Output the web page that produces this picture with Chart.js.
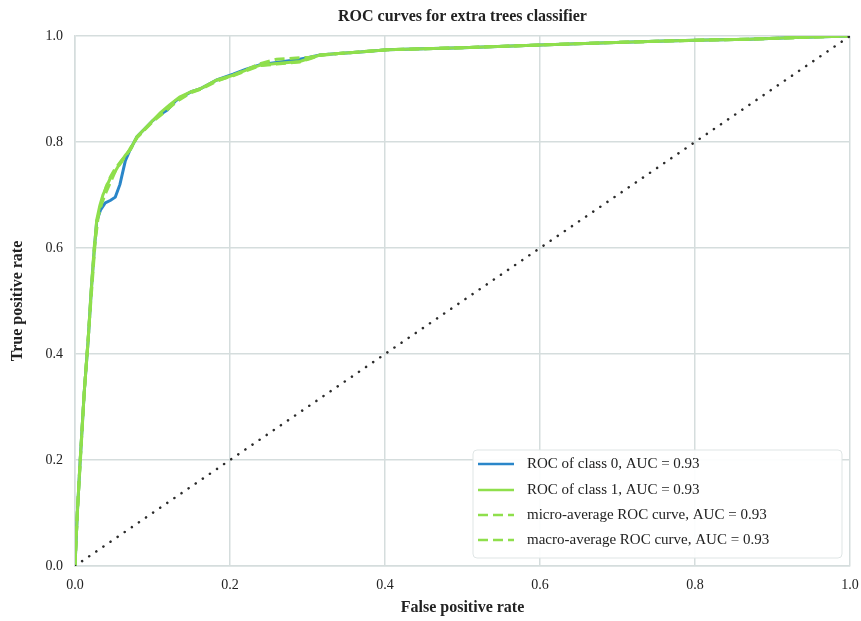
<!DOCTYPE html>
<html>
<head>
<meta charset="utf-8">
<script src="https://cdn.jsdelivr.net/npm/chart.js@4.4.0/dist/chart.umd.min.js"></script>
<style>
  html, body { margin: 0; padding: 0; background: #fff; }
  #wrap { width: 861px; height: 621px; }
</style>
</head>
<body>
<div id="wrap"><canvas id="roc" width="861" height="621"></canvas></div>
<script>
const xTicks = [0, 0.2, 0.4, 0.6, 0.8, 1.0];
const yTicks = [0, 0.2, 0.4, 0.6, 0.8, 1.0];

// class 0 (blue)
const fpr0 = [0, 0.003, 0.0065, 0.012, 0.017, 0.021, 0.025, 0.028, 0.033, 0.039, 0.046, 0.052, 0.058, 0.065, 0.071, 0.08, 0.09, 0.1, 0.11, 0.119, 0.13, 0.15, 0.161, 0.183, 0.204, 0.22, 0.239, 0.26, 0.29, 0.303, 0.316, 0.34, 0.368, 0.403, 0.45, 0.5, 0.6, 0.677, 0.75, 0.8, 0.87, 0.93, 1.0];
const tpr0 = [0, 0.1, 0.194, 0.33, 0.426, 0.52, 0.6, 0.65, 0.672, 0.685, 0.69, 0.696, 0.72, 0.765, 0.785, 0.81, 0.825, 0.84, 0.852, 0.86, 0.878, 0.895, 0.9, 0.917, 0.928, 0.937, 0.946, 0.95, 0.956, 0.96, 0.964, 0.967, 0.97, 0.974, 0.976, 0.978, 0.983, 0.987, 0.99, 0.992, 0.994, 0.997, 1.0];

// class 1 (green)
const fpr1 = [0, 0.003, 0.0065, 0.012, 0.017, 0.021, 0.025, 0.028, 0.032, 0.036, 0.045, 0.052, 0.058, 0.065, 0.071, 0.08, 0.09, 0.1, 0.11, 0.122, 0.135, 0.15, 0.161, 0.183, 0.204, 0.22, 0.239, 0.26, 0.29, 0.303, 0.316, 0.34, 0.368, 0.403, 0.45, 0.5, 0.6, 0.677, 0.75, 0.8, 0.87, 0.93, 1.0];
const tpr1 = [0, 0.1, 0.194, 0.33, 0.426, 0.52, 0.6, 0.653, 0.68, 0.70, 0.73, 0.745, 0.76, 0.775, 0.785, 0.81, 0.825, 0.84, 0.855, 0.87, 0.885, 0.895, 0.9, 0.917, 0.926, 0.935, 0.945, 0.948, 0.952, 0.958, 0.964, 0.967, 0.97, 0.974, 0.976, 0.978, 0.983, 0.987, 0.99, 0.992, 0.994, 0.997, 1.0];

// micro-average
const fprMicro = [0, 0.003, 0.007, 0.012, 0.017, 0.022, 0.026, 0.03, 0.035, 0.04, 0.046, 0.052, 0.06, 0.066, 0.072, 0.08, 0.09, 0.1, 0.112, 0.122, 0.135, 0.15, 0.163, 0.183, 0.204, 0.22, 0.239, 0.26, 0.29, 0.303, 0.316, 0.34, 0.368, 0.403, 0.45, 0.5, 0.6, 0.677, 0.75, 0.8, 0.87, 0.93, 1.0];
const tprMicro = [0, 0.1, 0.2, 0.33, 0.43, 0.53, 0.61, 0.66, 0.69, 0.715, 0.735, 0.75, 0.765, 0.775, 0.79, 0.808, 0.823, 0.838, 0.852, 0.865, 0.88, 0.893, 0.9, 0.915, 0.926, 0.936, 0.948, 0.956, 0.959, 0.96, 0.964, 0.967, 0.97, 0.974, 0.976, 0.978, 0.983, 0.987, 0.99, 0.992, 0.994, 0.997, 1.0];

// macro-average
const fprMacro = [0, 0.003, 0.0065, 0.012, 0.017, 0.021, 0.025, 0.029, 0.034, 0.04, 0.047, 0.053, 0.06, 0.066, 0.072, 0.08, 0.09, 0.1, 0.11, 0.122, 0.135, 0.15, 0.161, 0.183, 0.204, 0.22, 0.239, 0.26, 0.29, 0.303, 0.316, 0.34, 0.368, 0.403, 0.45, 0.5, 0.6, 0.677, 0.75, 0.8, 0.87, 0.93, 1.0];
const tprMacro = [0, 0.1, 0.196, 0.33, 0.428, 0.525, 0.605, 0.655, 0.682, 0.705, 0.728, 0.748, 0.762, 0.776, 0.787, 0.809, 0.824, 0.839, 0.853, 0.866, 0.882, 0.894, 0.9, 0.916, 0.925, 0.934, 0.944, 0.947, 0.951, 0.957, 0.963, 0.967, 0.97, 0.974, 0.976, 0.978, 0.983, 0.987, 0.99, 0.992, 0.994, 0.997, 1.0];

const chanceX = [0, 1];
const chanceY = [0, 1];

const labels = [
  'ROC of class 0, AUC = 0.93',
  'ROC of class 1, AUC = 0.93',
  'micro-average ROC curve, AUC = 0.93',
  'macro-average ROC curve, AUC = 0.93'
];

const FONT = '"Liberation Serif", "DejaVu Serif", serif';
const GREEN = '#8fdf4c';
const BLUE = '#2a86c9';
const GRID = '#d5dddd';

function pts(xs, ys) {
  return xs.map(function(x, i) { return { x: x, y: ys[i] }; });
}

const titlePlugin = {
  id: 'plotTitle',
  afterDraw(chart) {
    const ctx = chart.ctx, a = chart.chartArea;
    ctx.save();
    ctx.fillStyle = '#222';
    ctx.font = 'bold 16px ' + FONT;
    ctx.textAlign = 'center';
    ctx.textBaseline = 'middle';
    ctx.fillText('ROC curves for extra trees classifier', (a.left + a.right) / 2, 17);
    ctx.restore();
  }
};

const legendPlugin = {
  id: 'boxLegend',
  afterDraw(chart) {
    const ctx = chart.ctx;
    const x0 = 473, y0 = 450, w = 369, h = 108;
    ctx.save();
    ctx.fillStyle = 'rgba(255,255,255,0.92)';
    ctx.strokeStyle = '#dfe5e5';
    ctx.lineWidth = 1;
    ctx.beginPath();
    ctx.roundRect(x0, y0, w, h, 4);
    ctx.fill();
    ctx.stroke();
    ctx.font = '15px ' + FONT;
    ctx.textBaseline = 'middle';
    ctx.textAlign = 'left';
    const rows = [464, 490, 515, 540];
    for (let i = 0; i < 4; i++) {
      const ds = chart.data.datasets[i];
      ctx.strokeStyle = ds.borderColor;
      ctx.lineWidth = 2.5;
      ctx.setLineDash(ds.borderDash || []);
      ctx.beginPath();
      ctx.moveTo(478, rows[i]);
      ctx.lineTo(514, rows[i]);
      ctx.stroke();
      ctx.setLineDash([]);
      ctx.fillStyle = '#222';
      ctx.fillText(ds.label, 527, rows[i]);
    }
    ctx.restore();
  }
};

new Chart(document.getElementById('roc'), {
  type: 'scatter',
  data: {
    datasets: [
      { label: labels[0], data: pts(fpr0, tpr0), order: 4, showLine: true, borderColor: BLUE, borderWidth: 3, pointRadius: 0, tension: 0 },
      { label: labels[1], data: pts(fpr1, tpr1), order: 3, showLine: true, borderColor: GREEN, borderWidth: 3, pointRadius: 0, tension: 0 },
      { label: labels[2], data: pts(fprMicro, tprMicro), order: 2, showLine: true, borderColor: GREEN, borderWidth: 3, borderDash: [10, 5], pointRadius: 0, tension: 0 },
      { label: labels[3], data: pts(fprMacro, tprMacro), order: 1, showLine: true, borderColor: GREEN, borderWidth: 3, borderDash: [10, 5], pointRadius: 0, tension: 0 },
      { label: 'chance', data: pts(chanceX, chanceY), order: 0, showLine: true, borderColor: '#2b2b2b', borderWidth: 2.5, borderDash: [0.1, 8.5], borderCapStyle: 'round', pointRadius: 0 }
    ]
  },
  options: {
    responsive: false,
    animation: false,
    layout: { padding: { left: 4, right: 11, top: 36, bottom: 0 } },
    plugins: {
      legend: { display: false },
      tooltip: { enabled: false }
    },
    scales: {
      x: {
        type: 'linear', min: 0, max: 1,
        afterBuildTicks(axis) { axis.ticks = xTicks.map(function(v) { return { value: v }; }); },
        afterFit(axis) { axis.height = 55; axis.paddingRight = 0; axis.paddingLeft = 0; },
        grid: { color: GRID, lineWidth: 1.5, drawTicks: false },
        border: { color: GRID, width: 1.5 },
        ticks: { padding: 11, color: '#222', font: { family: FONT, size: 14 }, callback: function(v) { return v.toFixed(1); } },
        title: { display: true, text: 'False positive rate', color: '#222', font: { family: FONT, size: 16, weight: 'bold' }, padding: { top: 4 } }
      },
      y: {
        type: 'linear', min: 0, max: 1,
        afterBuildTicks(axis) { axis.ticks = yTicks.map(function(v) { return { value: v }; }); },
        afterFit(axis) { axis.width = 71; },
        grid: { color: GRID, lineWidth: 1.5, drawTicks: false },
        border: { color: GRID, width: 1.5 },
        ticks: { padding: 12, color: '#222', font: { family: FONT, size: 14 }, callback: function(v) { return v.toFixed(1); } },
        title: { display: true, text: 'True positive rate', color: '#222', font: { family: FONT, size: 16, weight: 'bold' }, padding: { bottom: 6 } }
      }
    }
  },
  plugins: [titlePlugin, legendPlugin]
});
</script>
</body>
</html>
